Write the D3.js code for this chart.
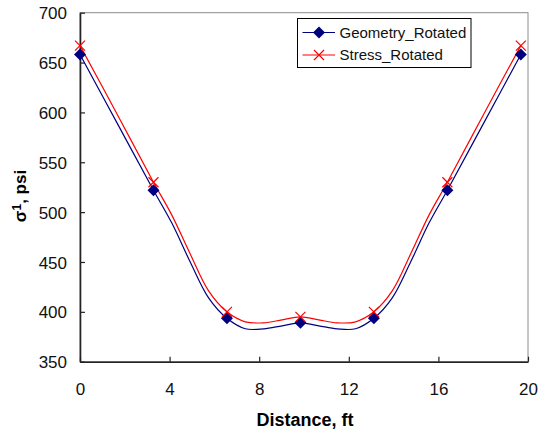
<!DOCTYPE html>
<html>
<head>
<meta charset="utf-8">
<script src="https://cdn.jsdelivr.net/npm/d3@7"></script>
<style>
  body { margin: 0; background: #fff; }
  svg { display: block; font-family: Arial, "Liberation Sans", sans-serif; }
</style>
</head>
<body>
<div id="chart"></div>
<script>
// marker positions (ft) and values (psi)
const markerX = [0, 3.28, 6.56, 9.84, 13.12, 16.4, 19.68];
const geometryMarks = [658, 522, 393.5, 389, 393.5, 522, 658];
const stressMarks = [667, 530, 400, 395, 400, 530, 667];

// smoothed profile
const lineX = [0, 1.64, 3.28, 4.1, 4.92, 5.74, 6.56, 7.38, 8.2, 9.02, 9.84,
  10.66, 11.48, 12.3, 13.12, 13.94, 14.76, 15.58, 16.4, 18.04, 19.68];
const geometryLine = [658, 590, 522, 489, 450, 414, 393.5, 383, 383, 386, 389,
  386, 383, 383, 393.5, 414, 450, 489, 522, 590, 658];
const stressLine = [667, 599, 530, 497, 458, 421, 400, 390, 389, 392, 395,
  392, 389, 390, 400, 421, 458, 497, 530, 599, 667];

const xTicks = [0, 4, 8, 12, 16, 20];
const yTicks = [350, 400, 450, 500, 550, 600, 650, 700];

const width = 538;
const height = 435;
const plotLeft = 80, plotRight = 528, plotTop = 12.7, plotBottom = 361.7;

const x = d3.scaleLinear().domain([0, 20]).range([plotLeft, plotRight]);
const y = d3.scaleLinear().domain([350, 700]).range([plotBottom, plotTop]);

const svg = d3
  .select("#chart")
  .append("svg")
  .attr("width", width)
  .attr("height", height);

// plot area frame
svg
  .append("rect")
  .attr("x", plotLeft)
  .attr("y", plotTop)
  .attr("width", plotRight - plotLeft)
  .attr("height", plotBottom - plotTop)
  .attr("fill", "#fff")
  .attr("stroke", "#8c8c8c")
  .attr("stroke-width", 1);

// axes with inward ticks
const xAxis = svg
  .append("g")
  .attr("transform", `translate(0,${plotBottom})`)
  .call(d3.axisBottom(x).tickValues(xTicks).tickSizeInner(-5).tickSizeOuter(0).tickPadding(21));
const yAxis = svg
  .append("g")
  .attr("transform", `translate(${plotLeft},0)`)
  .call(d3.axisLeft(y).tickValues(yTicks).tickSizeInner(-5).tickSizeOuter(0).tickPadding(13));

[xAxis, yAxis].forEach((g) => {
  g.select(".domain").attr("stroke", "#222").attr("stroke-width", 1.6);
  g.selectAll(".tick line").attr("stroke", "#222").attr("stroke-width", 1.2);
  g.selectAll(".tick text")
    .attr("fill", "#111")
    .style("font-size", "17px")
    .style("font-family", "Arial, 'Liberation Sans', sans-serif");
});
yAxis.selectAll(".tick text").attr("dy", "0.36em");

// axis titles
svg
  .append("text")
  .attr("x", (plotLeft + plotRight) / 2 + 1)
  .attr("y", 425.5)
  .attr("text-anchor", "middle")
  .style("font-size", "18px")
  .style("font-weight", "bold")
  .text("Distance, ft");

const yTitle = svg
  .append("text")
  .attr("transform", `translate(26,196) rotate(-90)`)
  .attr("text-anchor", "middle")
  .style("font-size", "17px")
  .style("font-weight", "bold");
yTitle.append("tspan").text("σ");
yTitle.append("tspan").attr("dy", -5).style("font-size", "12px").text("1");
yTitle.append("tspan").attr("dy", 5).text(", psi");

// curves
const line = d3
  .line()
  .x((d) => x(d[0]))
  .y((d) => y(d[1]))
  .curve(d3.curveCatmullRom.alpha(0.5));

const series = [
  { name: "Geometry_Rotated", color: "#000080", line: geometryLine, marks: geometryMarks, shape: "diamond" },
  { name: "Stress_Rotated", color: "#ff0000", line: stressLine, marks: stressMarks, shape: "cross" },
];

function drawMarker(g, shape, color) {
  if (shape === "diamond") {
    g.append("path").attr("d", "M0,-6L6,0L0,6L-6,0Z").attr("fill", color);
  } else {
    g.append("path")
      .attr("d", "M-5,-5L5,5M-5,5L5,-5")
      .attr("stroke", color)
      .attr("stroke-width", 1.2)
      .attr("fill", "none");
  }
}

series.forEach((s) => {
  svg
    .append("path")
    .datum(d3.zip(lineX, s.line))
    .attr("d", line)
    .attr("fill", "none")
    .attr("stroke", s.color)
    .attr("stroke-width", 1.2);
});

series.forEach((s) => {
  d3.zip(markerX, s.marks).forEach((d) => {
    const g = svg.append("g").attr("transform", `translate(${x(d[0])},${y(d[1])})`);
    drawMarker(g, s.shape, s.color);
  });
});

// legend
const legend = svg.append("g").attr("transform", "translate(297.5,18.5)");
legend
  .append("rect")
  .attr("width", 173.5)
  .attr("height", 49)
  .attr("fill", "#fff")
  .attr("stroke", "#000")
  .attr("stroke-width", 1);

series.forEach((s, i) => {
  const row = legend.append("g").attr("transform", `translate(0,${14 + i * 22.5})`);
  row
    .append("line")
    .attr("x1", 5)
    .attr("x2", 37.5)
    .attr("stroke", s.color)
    .attr("stroke-width", 1.2);
  drawMarker(row.append("g").attr("transform", "translate(21.5,0)"), s.shape, s.color);
  row
    .append("text")
    .attr("x", 42)
    .attr("dy", "0.36em")
    .style("font-size", "15px")
    .attr("fill", "#111")
    .text(s.name);
});
</script>
</body>
</html>
